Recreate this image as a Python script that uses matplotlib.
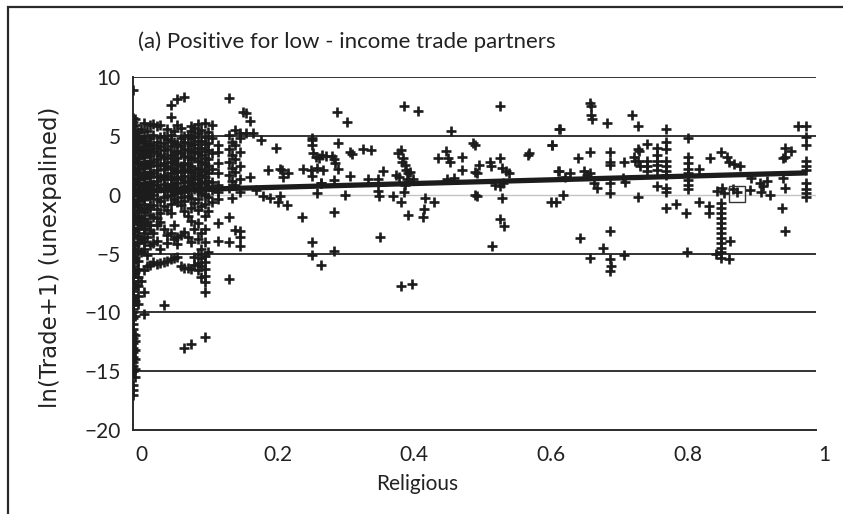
import matplotlib
matplotlib.use("Agg")
import matplotlib.pyplot as plt
from matplotlib.patches import Rectangle
from matplotlib.transforms import ScaledTranslation

# ---------------- data ----------------
# dense cluster: column positions (religious) and residuals in each column
cluster_x = [0.0, 0.003, 0.008, 0.012, 0.016, 0.020, 0.025, 0.030, 0.035,
             0.040, 0.045, 0.050, 0.055, 0.060, 0.065, 0.070, 0.075, 0.080,
             0.085, 0.090, 0.095, 0.100, 0.105, 0.110, 0.115, 0.125, 0.14,
             0.145, 0.15, 0.156]
cluster_y = [
    [8.9, 6.5, 6.2, 5.8, 5.5, 5.2, 5.0, 4.7, 4.4, 4.1, 3.8, 3.5, 3.2, 2.9, 2.6,
     2.3, 2.0, 1.7, 1.4, 1.1, 0.8, 0.5, 0.2, -0.1, -0.4, -0.7, -1.0, -1.3,
     -1.6, -1.9, -2.2, -2.5, -2.8, -3.1, -3.4, -3.7, -4.0, -4.3, -4.6, -4.9,
     -5.2, -5.5, -5.8, -6.1, -6.4, -6.7, -7.0, -7.3, -7.6, -7.9, -8.2, -8.5,
     -8.8, -9.1, -9.4, -9.7, -10.0, -10.5, -11.0, -11.4, -11.8, -12.2, -12.6,
     -13.0, -13.4, -13.8, -14.2, -14.6, -15.0, -16.2, -16.6, -17.0],
    [6.4, 5.9, 5.1, 4.5, 3.9, 3.0, 2.1, 1.2, 0.3, -0.8, -2.0, -3.1, -4.3,
     -5.4, -6.6, -7.7, -9.0, -10.3, -11.9, -12.4, -13.2, -14.0, -14.8, -15.5],
    [5.3, 4.9, 4.4, 4.0, 3.6, 3.1, 2.7, 2.2, 1.8, 1.3, 0.9, 0.4, 0.0, -0.5,
     -0.9, -1.4, -1.8, -2.3, -2.9, -3.5, -4.1, -4.8, -5.6, -6.3, -7.0, -7.8,
     -8.6, -9.3],
    [5.6, 4.7, 3.8, 3.4, 2.5, 1.6, 0.7, -0.2, -1.1, -2.0, -2.6, -3.8, -4.9,
     -7.3],
    [6.1, 5.0, 4.6, 4.1, 3.7, 3.2, 2.8, 2.3, 1.9, 1.4, 1.0, 0.6, 0.1, -0.4,
     -0.8, -1.5, -2.1, -2.8, -3.3, -4.0, -4.6, -6.4, -8.3, -10.1],
    [5.4, 4.3, 3.5, 2.6, 1.7, 0.8, -0.1, -1.2, -2.3, -3.6, -5.1, -6.1],
    [5.9, 4.8, 4.3, 3.9, 3.3, 2.9, 2.4, 1.9, 1.5, 1.1, 0.7, 0.2, -0.3, -1.0,
     -1.7, -2.6, -3.0, -4.3, -6.0],
    [6.0, 5.1, 4.2, 3.7, 2.8, 1.8, 0.9, 0.0, -0.9, -1.9, -3.3, -4.1, -5.7],
    [5.8, 4.5, 4.0, 3.5, 3.0, 2.5, 2.1, 1.6, 1.2, 0.8, 0.3, -0.4, -1.2, -2.0,
     -2.6, -3.9, -5.9],
    [5.9, 4.9, 4.1, 3.4, 2.5, 1.5, 0.6, -0.5, -1.6, -2.3, -4.6, -5.8],
    [5.0, 4.4, 3.8, 3.2, 2.7, 2.2, 1.7, 1.3, 0.9, 0.4, -0.2, -1.0, -2.9, -5.7,
     -9.4],
    [5.6, 4.7, 3.9, 3.1, 2.4, 1.6, 0.7, -0.1, -1.3, -3.4, -4.1, -5.6],
    [7.6, 6.6, 5.1, 4.6, 4.1, 3.4, 2.8, 2.3, 1.8, 1.3, 0.9, 0.5, 0.0, -0.8,
     -1.6, -3.3, -5.5],
    [5.4, 4.5, 3.6, 2.9, 2.2, 1.4, 0.7, 0.2, -0.4, -2.6, -3.8, -5.4],
    [8.1, 5.9, 4.3, 3.7, 3.1, 2.6, 2.0, 1.5, 1.0, 0.6, 0.1, -0.6, -3.6, -4.2,
     -5.3],
    [5.7, 4.8, 4.1, 3.5, 2.4, 1.9, 1.3, 0.4, -0.2, -0.9, -3.4, -6.1],
    [8.3, 5.0, 4.5, 3.9, 3.3, 2.7, 2.2, 1.6, 1.1, 0.7, 0.2, -0.5, -1.4, -3.2,
     -6.2, -13.0],
    [5.1, 4.4, 3.8, 3.2, 2.6, 2.0, 1.2, 0.5, -0.1, -1.8, -3.6, -6.2],
    [5.8, 5.4, 4.8, 4.2, 3.6, 3.0, 2.4, 1.9, 1.4, 0.9, 0.4, -0.3, -1.1, -2.2,
     -4.0, -6.3, -12.7],
    [5.7, 4.9, 4.3, 3.7, 3.1, 2.1, 1.6, 1.0, 0.5, -0.7, -2.9, -5.3, -6.0],
    [6.0, 5.2, 4.6, 4.0, 3.5, 2.9, 2.3, 1.8, 1.3, 0.8, 0.3, -0.4, -1.3, -2.4,
     -3.8, -5.0, -5.8, -6.4],
    [5.5, 4.6, 4.0, 3.4, 2.8, 2.2, 1.7, 1.1, 0.6, 0.1, -1.0, -3.3, -4.6, -5.4,
     -6.1, -7.0],
    [6.1, 4.9, 4.3, 3.7, 3.1, 2.6, 2.0, 1.5, 1.0, 0.5, 0.0, -0.8, -1.8, -2.9,
     -4.0, -5.2, -5.7, -6.3, -6.9, -7.4, -8.3, -12.1],
    [5.3, 4.4, 3.8, 3.0, 2.4, 1.8, 1.2, 0.7, -0.2, -1.4, -4.9],
    [5.9, 4.8, 3.5, 2.2, 1.1, 0.4, -0.6],
    [4.2, 3.6, 2.7, 1.8, 0.8, 0.2, -0.4, -2.4, -3.9],
    [8.2, 5.1, 3.9, 2.8, 1.7, 0.6, -1.9, -4.0, -7.2],
    [4.5, 3.4, 2.3, 1.2, -0.3],
    [5.5, 4.2, 3.0, 1.9, 0.8, -3.0],
    [4.8, 3.6, 2.4, 1.3, 0.2, -3.1, -3.6, -4.4],
]

# scattered pairs (religious, residual)
sparse_x = [0.161, 0.166, 0.171, 0.157, 0.165, 0.176, 0.188, 0.21, 0.198,
            0.218, 0.227, 0.172, 0.18, 0.19, 0.2, 0.212,
            0.298, 0.313, 0.397, 0.418, 0.537, 0.465, 0.623, 0.262, 0.262,
            0.262, 0.30, 0.318, 0.32, 0.337, 0.349, 0.264, 0.268, 0.272,
            0.276, 0.282, 0.292, 0.294, 0.296, 0.215, 0.249, 0.26, 0.27,
            0.278, 0.275, 0.30, 0.22, 0.262, 0.275, 0.295, 0.318, 0.344,
            0.358, 0.366, 0.385, 0.39, 0.388, 0.393, 0.395, 0.394, 0.398,
            0.40, 0.402, 0.405, 0.41, 0.398, 0.401, 0.447, 0.459, 0.461,
            0.464, 0.481, 0.481, 0.50, 0.507, 0.50, 0.503, 0.47, 0.46, 0.523,
            0.524, 0.537, 0.54, 0.546, 0.551, 0.53, 0.537, 0.541, 0.578,
            0.613, 0.622, 0.215, 0.225, 0.27, 0.31, 0.358, 0.36, 0.38, 0.392,
            0.397, 0.428, 0.44, 0.50, 0.503, 0.54, 0.62, 0.248, 0.294, 0.403,
            0.425, 0.426, 0.537, 0.543, 0.362, 0.262, 0.262, 0.275, 0.294,
            0.526, 0.393, 0.409, 0.498, 0.58,
            0.669, 0.671, 0.670, 0.672, 0.694, 0.730, 0.740, 0.781, 0.625,
            0.614, 0.813, 0.781, 0.781, 0.752, 0.767, 0.740, 0.741, 0.669,
            0.699, 0.652, 0.698, 0.698, 0.719, 0.733, 0.735, 0.74, 0.742,
            0.752, 0.752, 0.752, 0.767, 0.767, 0.767, 0.767, 0.781, 0.781,
            0.781, 0.781, 0.813, 0.813, 0.813, 0.813, 0.813, 0.813, 0.813,
            0.828, 0.845, 0.861, 0.87, 0.872, 0.88, 0.889, 0.624, 0.632, 0.64,
            0.66, 0.664, 0.669, 0.675, 0.68, 0.698, 0.698, 0.717, 0.72, 0.74,
            0.767, 0.781, 0.781, 0.855, 0.862, 0.866, 0.878, 0.884, 0.903,
            0.905, 0.918, 0.922, 0.92, 0.928, 0.932, 0.952, 0.955, 0.955,
            0.964, 0.952, 0.955, 0.974, 0.986, 0.986, 0.986, 0.986, 0.986,
            0.986, 0.986, 0.986, 0.986, 0.986, 0.63, 0.612, 0.781, 0.795,
            0.81, 0.828, 0.844, 0.844, 0.861, 0.861, 0.861, 0.861, 0.861,
            0.861, 0.861, 0.861, 0.861, 0.861, 0.861, 0.874, 0.861, 0.872,
            0.853, 0.811, 0.950, 0.955, 0.655, 0.698, 0.669, 0.688, 0.698,
            0.70, 0.698, 0.719]
sparse_y = [7.05, 6.9, 6.3, 5.2, 5.2, 5.2, 4.65, 4.0, 2.1,
            2.1, 1.8, 1.5, 0.4, -0.1, -0.3, -0.6,
            7.0, 6.15, 7.5, 7.15, 7.5, 5.45, 5.6, 4.85, 4.65,
            4.2, 4.35, 3.65, 3.45, 3.9, 3.8, 3.5, 3.2, 3.1,
            3.4, 3.3, 3.3, 3.0, 2.7, 2.2, 2.2, 2.1, 2.3,
            2.1, 1.0, 2.2, 1.5, 1.6, 0.95, 1.25, 1.55, 1.3,
            1.3, 2.0, 1.7, 1.5, 3.5, 3.8, 3.1, 2.8, 2.5,
            2.1, 1.8, 1.9, 1.3, 0.8, 1.35, 3.1, 3.7, 3.1,
            2.8, 3.2, 2.1, 4.2, 2.5, 1.9, 1.8, 1.45, 1.3, 2.8,
            2.4, 3.1, 2.3, 2.0, 1.8, 0.85, 0.7, 1.0, 3.4,
            4.2, 2.0, -0.1, -0.9, 0.1, 0.0, 0.35, -0.1, -0.1, -0.6,
            0.2, -0.3, -0.6, 0.0, -0.15, -0.3, -0.6, -1.87, -1.5, -1.72,
            -1.87, -1.2, -2.1, -2.7, -3.57, -4.0, -5.1, -6.0, -4.75,
            -4.35, -7.8, -7.6, 4.4, 3.5,
            7.76, 7.5, 6.8, 6.4, 6.1, 6.8, 5.8, 5.6, 5.6,
            4.2, 4.8, 4.5, 3.9, 4.3, 4.0, 3.9, 3.7, 3.66,
            3.66, 3.1, 2.8, 2.5, 2.8, 3.2, 2.9, 2.9, 2.4,
            2.9, 2.4, 2.0, 3.4, 2.9, 2.5, 2.1, 2.9, 2.4,
            2.0, 1.7, 3.2, 2.7, 2.2, 1.8, 1.25, 0.8, 0.5,
            2.2, 3.1, 3.66, 3.2, 2.8, 2.6, 2.4, 2.0, 1.5, 1.8,
            2.0, 1.7, 1.8, 0.97, 0.54, 1.0, 0.1, 1.4, 1.1, -0.2,
            0.7, 0.6, 0.2, 0.3, 0.6, 0.1, 0.5, 0.25, 0.4,
            1.4, 1.0, 0.7, 0.25, 1.2, 0.0, 3.1, 3.2, 4.0,
            3.7, 1.4, 0.54, 5.8, 5.8, 4.9, 4.2, 2.9,
            2.4, 2.1, 1.0, 0.5, 0.1, -0.2, 0.0, -0.6, -1.1, -0.8,
            -1.6, -0.6, -1.0, -1.6, -0.74, -1.16, -1.58, -2.01, -2.43,
            -2.85, -3.28, -3.7, -4.13, -4.56, -4.84, -3.9, -5.4, -5.5,
            -5.0, -4.84, -1.16, -3.06, -3.7, -3.06, -5.4, -4.56, -5.5,
            -6.1, -6.5, -5.1]

# fitted trend line
fit_x = [0.0, 0.986]
fit_y = [0.3, 1.85]

# highlighted observation (square)
box_x = [0.884]
box_y = [0.08]

x_ticks = [0, 0.2, 0.4, 0.6, 0.8, 1]
x_ticklabels = ["0", "0.2", "0.4", "0.6", "0.8", "1"]
y_ticks = [-20, -15, -10, -5, 0, 5, 10]
y_ticklabels = ["\u221220", "\u221215", "\u221210", "\u22125", "0", "5", "10"]

title = "(a) Positive for low - income trade partners"
xlabel = "Religious"
ylabel = "ln(Trade+1) (unexpalined)"

# ---------------- figure ----------------
W, H, DPI = 843, 514, 100
fig = plt.figure(figsize=(W / DPI, H / DPI), dpi=DPI)
fig.patch.set_facecolor("white")

# outer frame (cut at right / bottom like the scan)
fig.patches.append(Rectangle((8 / W, -0.05), 1.2, 1 - 7 / H + 0.05,
                             transform=fig.transFigure, fill=False,
                             edgecolor="#2a2a2a", linewidth=1.6))

ax = fig.add_axes([133 / W, 1 - 430 / H, (816 - 133) / W, (430 - 77) / H])
ax.set_xlim(0, 1)
ax.set_ylim(-20, 10)

ink = "#1c1c1c"
# gridlines
for yv in y_ticks:
    if yv == -20:
        continue
    if yv == 0:
        ax.axhline(yv, color="#c4c4c4", lw=1.0, zorder=1)
    else:
        ax.axhline(yv, color="#333333", lw=1.4, zorder=1)

xs, ys = [], []
for cx, col in zip(cluster_x, cluster_y):
    for v in col:
        xs.append(cx)
        ys.append(v)
xs += sparse_x
ys += sparse_y

ax.plot(xs, ys, linestyle="none", marker="+", markersize=7,
        markeredgewidth=1.9, color=ink, zorder=3)
ax.plot(fit_x, fit_y, color=ink, lw=3.8, solid_capstyle="butt", zorder=4)
ax.plot(box_x, box_y, linestyle="none", marker="s", markersize=12,
        markerfacecolor="none", markeredgecolor="#333333",
        markeredgewidth=1.0, zorder=5)

for s in ["top", "right"]:
    ax.spines[s].set_visible(False)
for s in ["left", "bottom"]:
    ax.spines[s].set_color("#2a2a2a")
    ax.spines[s].set_linewidth(1.4)

font = "Lato"
ax.set_xticks(x_ticks)
ax.set_xticklabels(x_ticklabels, fontsize=15, family=font, color="#222222")
ax.set_yticks(y_ticks)
ax.set_yticklabels(y_ticklabels, fontsize=15, family=font, color="#222222")
ax.tick_params(axis="both", length=0)
ax.tick_params(axis="x", pad=11)
ax.tick_params(axis="y", pad=9)
off = ScaledTranslation(8 / DPI, 0, fig.dpi_scale_trans)
for lab in ax.get_xticklabels():
    lab.set_transform(lab.get_transform() + off)

ax.set_xlabel(xlabel, fontsize=15, family=font, color="#222222")
ax.xaxis.set_label_coords((417 - 133) / (816 - 133), (430 - 474) / (430 - 77))
ax.set_ylabel(ylabel, fontsize=16.5, family="DejaVu Sans", color="#222222")
ax.yaxis.set_label_coords((62 - 133) / (816 - 133), 0.49)

fig.text(138 / W, 1 - 42 / H, title, fontsize=16, family=font,
         color="#222222", ha="left", va="center")

fig.savefig("out.png", dpi=DPI)
